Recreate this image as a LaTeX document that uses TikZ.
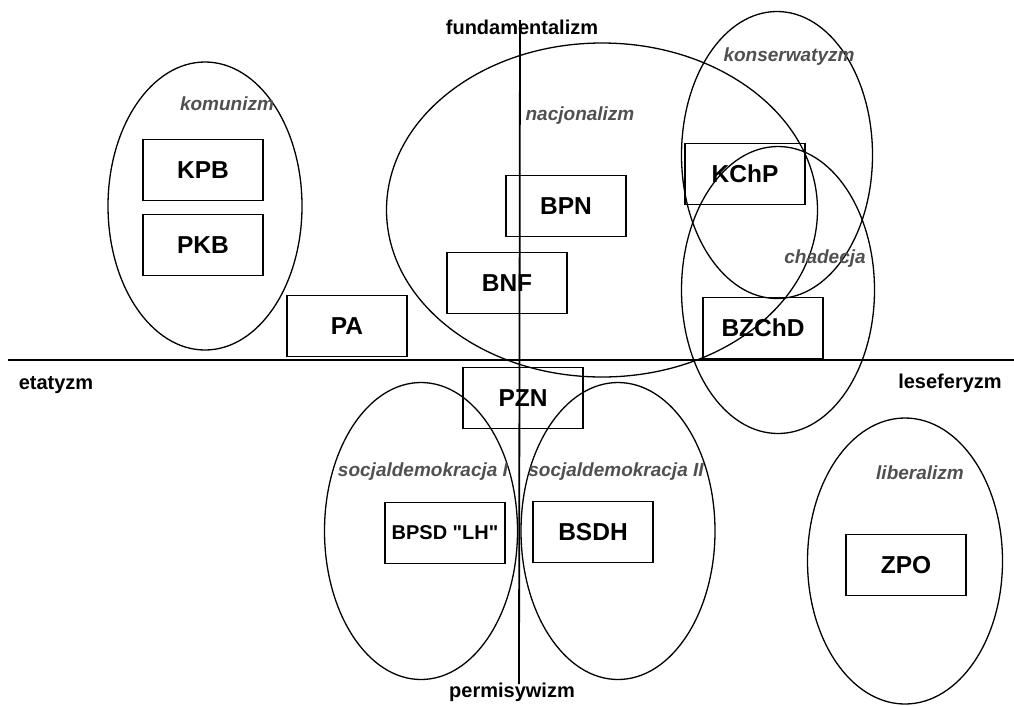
\documentclass[tikz,border=0pt]{standalone}
\usepackage{fontspec}
\setmainfont{Liberation Sans}
\newfontfamily\plainfont{Liberation Sans}[Ligatures=TeXOff]
\usetikzlibrary{shapes.geometric}
\definecolor{labgray}{HTML}{505050}
\begin{document}
\begin{tikzpicture}[x=1pt,y=-1pt,
  party/.style={draw, line width=1.6pt, minimum width=120pt, minimum height=61pt, inner sep=0pt,
    font=\bfseries\fontsize{24.5}{28}\selectfont},
  ideo/.style={draw, ellipse, line width=1.3pt, inner sep=0pt},
  ideolabel/.style={inner sep=0pt, text=labgray, font=\bfseries\itshape\fontsize{19}{22}\selectfont},
  axislabel/.style={inner sep=0pt, font=\bfseries\fontsize{20}{24}\selectfont},
  axisline/.style={line width=1.8pt}]
\useasboundingbox (0,0) rectangle (1014,705);

% ideology ellipses
\node[ideo, minimum width=194pt, minimum height=288pt] (komE) at (205,206) {};
\node[ideo, minimum width=431pt, minimum height=334pt] (nacE) at (602,210) {};
\node[ideo, minimum width=191pt, minimum height=287pt] (konE) at (777,155) {};
\node[ideo, minimum width=193pt, minimum height=287pt] (chaE) at (778,290) {};
\node[ideo, minimum width=193pt, minimum height=297pt] (sd1E) at (421,531) {};
\node[ideo, minimum width=194pt, minimum height=297pt] (sd2E) at (618,531) {};
\node[ideo, minimum width=195pt, minimum height=286pt] (libE) at (905,561) {};

% axes
\coordinate (hl) at (8,360);
\coordinate (hr) at (1014,360);
\coordinate (vt) at (520,20);
\coordinate (vb) at (519,684);
\draw[axisline] (hl) -- (hr);
\draw[axisline] (vt) -- (vb);

% axis labels
\node[axislabel] (fund) at (522,27) {fundamentalizm};
\node[axislabel] (perm) at (512,692) {permisywizm};
\node[axislabel] (etat) at (56,385) {etatyzm};
\node[axislabel] (lese) at (950,383) {leseferyzm};

% ideology labels
\node[ideolabel] (komL) at (227,104) {komunizm};
\node[ideolabel] (nacL) at (580,116) {nacjonalizm};
\node[ideolabel] (konL) at (789,57) {konserwatyzm};
\node[ideolabel] (chaL) at (825,259) {chadecja};
\node[ideolabel] (sd1L) at (423,472) {socjaldemokracja I};
\node[ideolabel] (sd2L) at (616,472) {socjaldemokracja II};
\node[ideolabel] (libL) at (920,473) {liberalizm};

% parties
\node[party] (KPB) at (203,170) {KPB};
\node[party] (PKB) at (203,245) {PKB};
\node[party] (PA) at (347,326) {PA};
\node[party] (BPN) at (566,206) {BPN};
\node[party] (BNF) at (507,283) {BNF};
\node[party] (KChP) at (745,174) {KChP};
\node[party] (BZChD) at (763,328) {BZChD};
\node[party] (PZN) at (523,398) {PZN};
\node[party, font=\plainfont\bfseries\fontsize{20}{24}\selectfont] (BPSD) at (445,533) {BPSD "LH"};
\node[party] (BSDH) at (593,532) {BSDH};
\node[party] (ZPO) at (906,565) {ZPO};
\end{tikzpicture}
\end{document}
